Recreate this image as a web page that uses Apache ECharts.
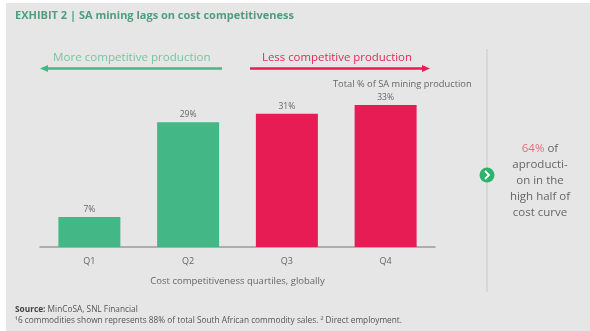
<!DOCTYPE html>
<html><head><meta charset="utf-8">
<script src="https://cdn.jsdelivr.net/npm/echarts@6/dist/echarts.min.js"></script>
<style>html,body{margin:0;padding:0;background:#fff}#c{width:590px;height:331px}</style>
</head><body><div id="c"></div>
<script>
var categories = ['Q1', 'Q2', 'Q3', 'Q4'];
var shareValues = [7, 29, 31, 33];
var barColors = ['#43b886', '#43b886', '#e81c55', '#e81c55'];

var chart = echarts.init(document.getElementById('c'));
var font = '"Open Sans", "Noto Sans", sans-serif';
chart.setOption({
  backgroundColor: '#ffffff',
  animation: false,
  grid: {left: 40, right: 155, top: 75, bottom: 84},
  xAxis: {
    type: 'category', data: categories,
    axisLine: {lineStyle: {color: '#9a9a9a', width: 1.5}},
    axisTick: {show: false},
    axisLabel: {color: '#666', fontSize: 9, fontFamily: font, margin: 10},
    name: 'Cost competitiveness quartiles, globally',
    nameLocation: 'middle', nameGap: 29,
    nameTextStyle: {color: '#666', fontSize: 9.5, fontFamily: font}
  },
  yAxis: {type: 'value', min: 0, max: 40, show: false, splitLine: {show: false}},
  series: [{
    type: 'bar', barWidth: 62,
    data: shareValues.map(function (v, i) { return {value: v, itemStyle: {color: barColors[i]}}; }),
    label: {show: true, position: 'top', distance: 3, formatter: '{c}%', color: '#666', fontSize: 8.5, fontFamily: font}
  }],
  graphic: [
    {type: 'rect', left: 6, top: 3, shape: {width: 584, height: 328}, style: {fill: '#e6e6e6'}, z: -10},
    {type: 'text', left: 15, top: 10, style: {text: 'EXHIBIT 2 | SA mining lags on cost competitiveness', fill: '#4e9d7e', font: 'bold 11px ' + font}},
    {type: 'text', left: 53, top: 52, style: {text: 'More competitive production', fill: '#74c7a0', font: '11.6px ' + font}},
    {type: 'line', shape: {x1: 46, y1: 68.5, x2: 222, y2: 68.5}, style: {stroke: '#43b886', lineWidth: 2.5}},
    {type: 'polygon', shape: {points: [[40, 68.5], [48, 65], [48, 72]]}, style: {fill: '#43b886'}},
    {type: 'text', left: 262, top: 52, style: {text: 'Less competitive production', fill: '#df2a5a', font: '11.4px ' + font}},
    {type: 'line', shape: {x1: 250, y1: 68.5, x2: 424, y2: 68.5}, style: {stroke: '#e81c55', lineWidth: 2.5}},
    {type: 'polygon', shape: {points: [[430, 68.5], [422, 65], [422, 72]]}, style: {fill: '#e81c55'}},
    {type: 'text', left: 333, top: 80, style: {text: 'Total % of SA mining production', fill: '#666', font: '9.3px ' + font}},
    {type: 'line', shape: {x1: 487, y1: 49, x2: 487, y2: 292}, style: {stroke: '#d2d2d2', lineWidth: 1.5}},
    {type: 'circle', shape: {cx: 487, cy: 175, r: 7.5}, style: {fill: '#2fb36c'}},
    {type: 'polyline', shape: {points: [[485, 171], [489, 175], [485, 179]]}, style: {stroke: '#fff', lineWidth: 1.8, fill: null}},
    {type: 'text', x: 540, y: 141, style: {
      text: '{r|64%} of\naproducti-\non in the\nhigh half of\ncost curve',
      align: 'center', fill: '#666', font: '11.5px ' + font, lineHeight: 16,
      rich: {r: {fill: '#ea6a7e', font: '11.5px ' + font}}
    }},
    {type: 'text', left: 15, top: 306, style: {
      text: '{b|Source:} MinCoSA, SNL Financial',
      fill: '#555', font: '8.3px ' + font,
      rich: {b: {font: 'bold 8.3px ' + font, fill: '#444'}}
    }},
    {type: 'text', left: 15, top: 317, style: {
      text: '¹6 commodities shown represents 88% of total South African commodity sales. ² Direct employment.',
      fill: '#555', font: '8.3px ' + font
    }}
  ]
});
</script></body></html>
